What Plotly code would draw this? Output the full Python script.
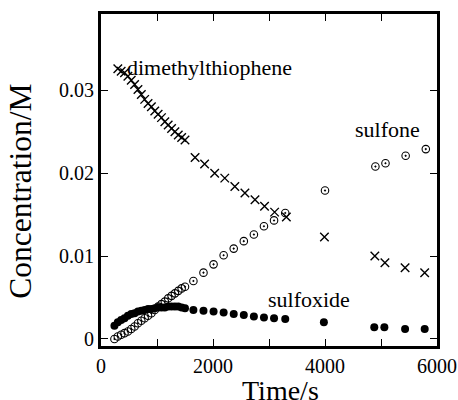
import plotly.graph_objects as go

# ---- data ----
t_dmt = [300, 360, 420, 480, 540, 600, 660, 720, 780, 840, 900, 960, 1020, 1080,
         1140, 1200, 1260, 1320, 1380, 1440, 1500,
         1680, 1850, 2030, 2210, 2390, 2570, 2750, 2920, 3100, 3310,
         3990, 4890, 5070, 5430, 5780]
c_dmt = [0.0326, 0.0323, 0.0321, 0.0317, 0.0312, 0.0307, 0.0301, 0.0295, 0.0289,
         0.0284, 0.0280, 0.0275, 0.0271, 0.0267, 0.0262, 0.0258, 0.0254, 0.0250,
         0.0246, 0.0243, 0.0240,
         0.0219, 0.0211, 0.0200, 0.0194, 0.0184, 0.0176, 0.0168, 0.0160, 0.0153, 0.0147,
         0.0123, 0.0100, 0.0092, 0.0086, 0.0080]

t_sulfone = [240, 300, 360, 420, 480, 540, 600, 660, 720, 780, 840, 900, 960, 1020,
             1080, 1140, 1200, 1260, 1320, 1380, 1440, 1500,
             1650, 1830, 2010, 2190, 2370, 2550, 2730, 2910, 3090, 3290,
             4000, 4900, 5080, 5440, 5800]
c_sulfone = [0.0000, 0.0003, 0.0005, 0.0007, 0.0009, 0.0012, 0.0015, 0.0019, 0.0022,
             0.0025, 0.0028, 0.0031, 0.0035, 0.0039, 0.0042, 0.0045, 0.0049, 0.0052,
             0.0055, 0.0058, 0.0061, 0.0063,
             0.0070, 0.0080, 0.0090, 0.0101, 0.0109, 0.0118, 0.0126, 0.0136, 0.0143, 0.0152,
             0.0179, 0.0208, 0.0212, 0.0221, 0.0229]

t_sulfoxide = [240, 300, 360, 420, 480, 540, 600, 660, 720, 780, 840, 900, 960, 1020,
               1080, 1140, 1200, 1260, 1320, 1380, 1440,
               1500, 1650, 1830, 2010, 2190, 2370, 2550, 2730, 2910, 3090, 3290,
               3980, 4880, 5060, 5430, 5780]
c_sulfoxide = [0.0016, 0.0020, 0.0023, 0.0025, 0.0028, 0.0030, 0.0031, 0.0033, 0.0034,
               0.0035, 0.0036, 0.0036, 0.0037, 0.0038, 0.0038, 0.0038, 0.0039, 0.0039,
               0.0039, 0.0039, 0.0038,
               0.0037, 0.0035, 0.0034, 0.0033, 0.0032, 0.0030, 0.0029, 0.0027, 0.0026,
               0.0025, 0.0024,
               0.0020, 0.0014, 0.0014, 0.0012, 0.0012]

x_tickvals = [0, 1000, 2000, 3000, 4000, 5000, 6000]
x_ticktext = ["0", "", "2000", "", "4000", "", "6000"]
y_tickvals = [0, 0.01, 0.02, 0.03]
y_ticktext = ["0", "0.01", "0.02", "0.03"]

labels = ["dimethylthiophene", "sulfone", "sulfoxide"]
label_pos = [(430, 0.0327), (4495, 0.0253), (2946, 0.0048)]

FONT = "Liberation Serif, Times New Roman, serif"

fig = go.Figure()
fig.add_trace(go.Scatter(x=t_sulfoxide, y=c_sulfoxide, mode="markers",
                         marker=dict(symbol="circle", size=8, color="black"),
                         showlegend=False))
fig.add_trace(go.Scatter(x=t_sulfone, y=c_sulfone, mode="markers",
                         marker=dict(symbol="circle-open-dot", size=7.5, color="black",
                                     line=dict(width=1.1, color="black")),
                         showlegend=False))
fig.add_trace(go.Scatter(x=t_dmt, y=c_dmt, mode="markers",
                         marker=dict(symbol="x-thin", size=8.5, color="black",
                                     line=dict(width=1.4, color="black")),
                         showlegend=False))

for txt, (px, py) in zip(labels, label_pos):
    fig.add_annotation(x=px, y=py, text=txt, showarrow=False, xanchor="left",
                       yanchor="middle", font=dict(family=FONT, size=22, color="black"))

fig.add_annotation(xref="paper", yref="paper", x=0.535, y=-0.082, text="Time/s",
                   showarrow=False, xanchor="center", yanchor="top",
                   font=dict(family=FONT, size=28, color="black"))
fig.add_annotation(xref="paper", yref="paper", x=-0.238, y=0.465, text="Concentration/M",
                   showarrow=False, xanchor="center", yanchor="middle", textangle=-90,
                   font=dict(family=FONT, size=31.5, color="black"))

axis_common = dict(showgrid=False, zeroline=False, showline=True, linewidth=3,
                   linecolor="black", mirror="ticks", ticks="inside", ticklen=7,
                   tickwidth=1, tickcolor="black", automargin=False,
                   tickfont=dict(family=FONT, size=20, color="black"))

fig.update_xaxes(range=[0, 6000], tickmode="array", tickvals=x_tickvals,
                 ticktext=x_ticktext, **axis_common)
fig.update_yaxes(range=[-0.00085, 0.0392], tickmode="array", tickvals=y_tickvals,
                 ticktext=y_ticktext, **axis_common)

fig.update_layout(width=458, height=400, margin=dict(l=101, r=21, t=14, b=54),
                  paper_bgcolor="white", plot_bgcolor="white")

fig.write_html("out.html", config={"displayModeBar": False},
               post_script="document.body.style.margin='0';document.body.style.overflow='hidden';")
